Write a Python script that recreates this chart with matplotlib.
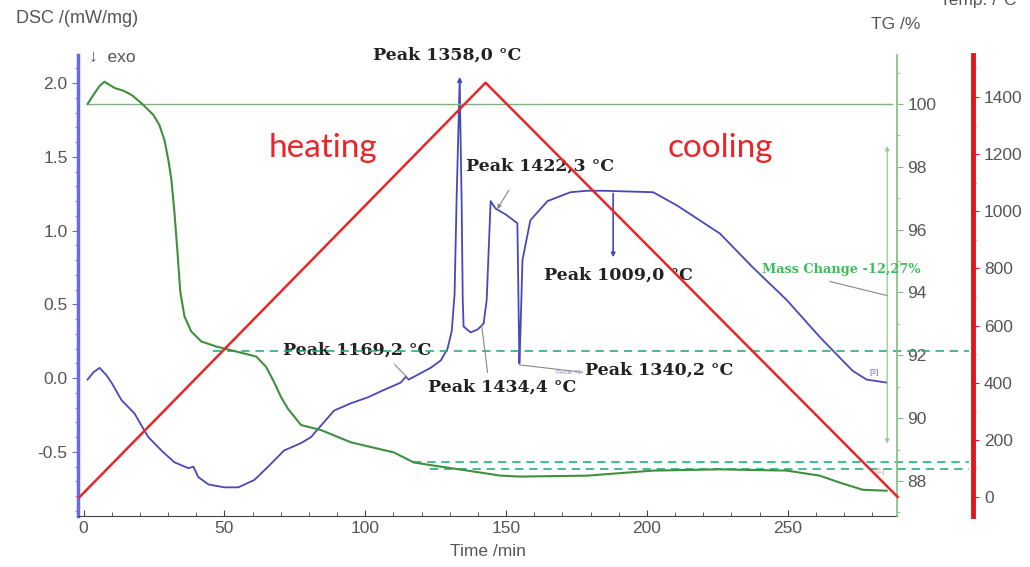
import numpy as np
import matplotlib
matplotlib.use("Agg")
import matplotlib.pyplot as plt
from matplotlib.ticker import MultipleLocator

# DSC curve (time /min, DSC /(mW/mg))
dsc_t = [1.4, 3.5, 5.7, 7.1, 8.1, 9.9, 13.5, 18.1, 20.5, 23.0, 27.6, 32.2, 37.2, 39.0,
         40.7, 44.3, 49.9, 54.9, 60.6, 65.5, 71.2, 77.2, 80.7, 88.9, 94.9, 100.9, 106.6,
         112.6, 114.4, 115.4, 123.2, 126.8, 129.2, 130.7, 131.7, 132.4, 133.5, 134.2,
         134.6, 134.9, 137.4, 139.9, 142.0, 143.1, 144.5, 146.2, 149.8, 154.0, 154.7,
         155.1, 155.8, 158.6, 164.7, 172.8, 178.8, 184.5, 202.2, 210.7, 225.9, 237.6,
         249.6, 261.3, 268.4, 273.0, 278.0, 285.1]
dsc_v = [-0.01, 0.04, 0.07, 0.04, 0.02, -0.03, -0.15, -0.24, -0.32, -0.40, -0.49, -0.57,
         -0.61, -0.60, -0.67, -0.72, -0.74, -0.74, -0.69, -0.60, -0.49, -0.44, -0.40,
         -0.22, -0.17, -0.13, -0.08, -0.03, 0.01, -0.01, 0.07, 0.12, 0.20, 0.32, 0.57,
         1.20, 2.01, 1.20, 0.53, 0.35, 0.31, 0.33, 0.37, 0.53, 1.20, 1.15, 1.11, 1.05,
         0.10, 0.32, 0.80, 1.07, 1.20, 1.26, 1.27, 1.27, 1.26, 1.17, 0.98, 0.75, 0.53,
         0.28, 0.14, 0.05, -0.01, -0.03]

# TG curve (time /min, mass /%)
tg_t = [1.4, 3.5, 5.7, 7.4, 9.2, 11.0, 14.2, 17.0, 20.5, 24.8, 26.9, 28.7, 30.1, 31.2,
        32.2, 33.3, 34.3, 35.8, 38.2, 41.8, 47.1, 54.2, 61.3, 64.8, 67.6, 70.1, 72.6,
        77.2, 84.3, 94.9, 110.1, 117.2, 124.3, 136.3, 148.0, 155.1, 178.8, 202.2,
        225.9, 249.6, 261.3, 268.4, 276.6, 285.1]
tg_v = [100.0, 100.29, 100.58, 100.71, 100.61, 100.51, 100.42, 100.29, 100.03, 99.65,
        99.33, 98.85, 98.21, 97.56, 96.60, 95.32, 94.04, 93.24, 92.76, 92.44, 92.28,
        92.12, 91.96, 91.63, 91.15, 90.67, 90.29, 89.78, 89.62, 89.23, 88.91, 88.59,
        88.49, 88.33, 88.17, 88.14, 88.17, 88.33, 88.37, 88.33, 88.17, 87.95, 87.72,
        87.69]

# temperature programme
temp_t = [-1.4, 142.7, 289.0]
temp_v = [0, 1450, 0]

# dashed TG reference levels (start time, level)
ref_start = [46.0, 117.0, 123.0]
ref_level = [92.15, 88.59, 88.37]

dsc_ticks = [-0.5, 0.0, 0.5, 1.0, 1.5, 2.0]
tg_ticks = [88, 90, 92, 94, 96, 98, 100]
temp_ticks = [0, 200, 400, 600, 800, 1000, 1200, 1400]
x_ticks = [0, 50, 100, 150, 200, 250]

BLUE = "#4848b8"
GREEN = "#3f8f3f"
RED = "#e8262a"
GREY = "#555555"
DASH = "#22b07a"

plt.rcParams['font.family'] = ['Liberation Sans', 'DejaVu Sans']

fig = plt.figure(figsize=(10.3, 5.67), dpi=100)
ax = fig.add_axes([0.0757, 0.090, 0.795, 0.813])
ax_tg = ax.twinx()
ax_t = ax.twinx()

ax.set_xlim(-2.0, 288.7)
ax.set_ylim(-0.934, 2.19)
ax_tg.set_ylim(86.886, 101.56)
ax_t.set_ylim(-66.5, 1547)

# spines
for a in (ax, ax_tg, ax_t):
    a.spines['top'].set_visible(False)
ax.spines['right'].set_visible(False)
ax.spines['left'].set_color("#6a6ae0")
ax.spines['left'].set_linewidth(2.5)
ax.spines['bottom'].set_color("#444444")
ax_tg.spines['left'].set_visible(False)
ax_tg.spines['bottom'].set_visible(False)
ax_tg.spines['right'].set_color("#7fbf7f")
ax_tg.spines['right'].set_linewidth(1.2)
ax_t.spines['left'].set_visible(False)
ax_t.spines['bottom'].set_visible(False)
ax_t.spines['right'].set_position(('outward', 54.7))
ax_t.spines['right'].set_color("#e0161a")
ax_t.spines['right'].set_linewidth(3.5)

# ticks
ax.set_xticks(x_ticks)
ax.xaxis.set_minor_locator(MultipleLocator(10))
ax.set_yticks(dsc_ticks)
ax.set_yticklabels([f"{v:.1f}" for v in dsc_ticks])
ax.yaxis.set_minor_locator(MultipleLocator(0.1))
ax.tick_params(axis='x', which='both', direction='in', colors="#444444",
               labelcolor=GREY, labelsize=12.5, length=4)
ax.tick_params(axis='x', which='minor', length=3)
ax.tick_params(axis='y', which='major', length=4, color="#6a6ae0",
               labelcolor=GREY, labelsize=12.5)
ax.tick_params(axis='y', which='minor', length=2, color="#6a6ae0")

ax_tg.set_yticks(tg_ticks)
ax_tg.yaxis.set_minor_locator(MultipleLocator(1))
ax_tg.tick_params(axis='y', which='major', length=4, color="#7fbf7f",
                  labelcolor=GREY, labelsize=12.5)
ax_tg.tick_params(axis='y', which='minor', length=2, color="#7fbf7f")

ax_t.set_yticks(temp_ticks)
ax_t.yaxis.set_minor_locator(MultipleLocator(100))
ax_t.tick_params(axis='y', which='major', length=4, color="#e0161a",
                 labelcolor=GREY, labelsize=12.5, pad=4)
ax_t.tick_params(axis='y', which='minor', length=2, color="#e0161a")

# reference lines for TG
ax_tg.plot([1.4, 287], [100, 100], color="#7fb07f", lw=1.0)
for s, lv in zip(ref_start, ref_level):
    ax_tg.plot([s, 314.5], [lv, lv], color=DASH, lw=1.2, ls=(0, (5, 3.5)), clip_on=False)

# curves
ax_tg.plot(tg_t, tg_v, color=GREEN, lw=1.5)
ax.plot(dsc_t, dsc_v, color=BLUE, lw=1.3)
ax_t.plot(temp_t, temp_v, color=RED, lw=1.8, clip_on=False)

# mass change marker
ax_tg.annotate("", xy=(285.3, 98.75), xytext=(285.3, 89.1),
               arrowprops=dict(arrowstyle="<|-|>", color="#8fcf8f", lw=0.9, mutation_scale=6))
ax_tg.text(269, 94.72, "Mass Change -12,27%", color="#3cbf5a", fontsize=9.3,
           family="DejaVu Serif", fontweight="bold", ha="center", va="center")
ax_tg.plot([265, 285.3], [94.35, 93.9], color="#888888", lw=0.8)

# peak annotations
peak_font = dict(family="DejaVu Serif", fontweight="bold", fontsize=12.5, color="#222222")
ax.annotate("", xy=(133.5, 2.06), xytext=(133.5, 1.85),
            arrowprops=dict(arrowstyle="-|>", color=BLUE, lw=1.0, mutation_scale=7))
ax.text(129.0, 2.19, "Peak 1358,0 °C", ha="center", va="center", **peak_font)
ax.text(162.0, 1.44, "Peak 1422,3 °C", ha="center", va="center", **peak_font)
ax.annotate("", xy=(146.3, 1.13), xytext=(151.5, 1.29),
            arrowprops=dict(arrowstyle="-|>", color="#888888", lw=0.8, mutation_scale=6))
ax.text(190.0, 0.70, "Peak 1009,0 °C", ha="center", va="center", **peak_font)
ax.annotate("", xy=(188.0, 0.80), xytext=(188.0, 1.27),
            arrowprops=dict(arrowstyle="-|>", color=BLUE, lw=1.2, mutation_scale=6))
ax.text(97.0, 0.19, "Peak 1169,2 °C", ha="center", va="center", **peak_font)
ax.plot([110.5, 115.2], [0.09, 0.0], color="#888888", lw=0.8)
ax.text(148.5, -0.06, "Peak 1434,4 °C", ha="center", va="center", **peak_font)
ax.plot([141.3, 143.4], [0.36, 0.04], color="#888888", lw=0.8)
ax.text(204.5, 0.055, "Peak 1340,2 °C", ha="center", va="center", **peak_font)
ax.plot([154.8, 177.0], [0.09, 0.04], color="#888888", lw=0.8)
ax.text(172.0, 0.035, "Result: 71", color="#8888cc", fontsize=4, ha="center", va="center")
ax.text(280.5, 0.04, "[3]", color="#7070d0", fontsize=6, ha="center", va="center")
ax_tg.text(282.8, 88.3, "[1]", color="#e0a0a0", fontsize=6, ha="center", va="center")

# heating / cooling labels
ax.text(85, 1.56, "heating", color=RED, fontsize=24, family="Lato", ha="center", va="center")
ax.text(226, 1.56, "cooling", color=RED, fontsize=24, family="Lato", ha="center", va="center")

# axis titles
fig.text(0.075, 0.968, "DSC /(mW/mg)", ha="center", va="center", fontsize=13, color=GREY)
fig.text(0.086, 0.899, "↓  exo", ha="left", va="center", fontsize=12.5, color=GREY)
fig.text(0.870, 0.956, "TG /%", ha="center", va="center", fontsize=12.5, color=GREY)
fig.text(0.950, 1.0, "Temp. /°C", ha="center", va="center", fontsize=12.5, color=GREY)
fig.text(0.474, 0.028, "Time /min", ha="center", va="center", fontsize=12.5, color=GREY)

fig.savefig("out.png", dpi=100)
